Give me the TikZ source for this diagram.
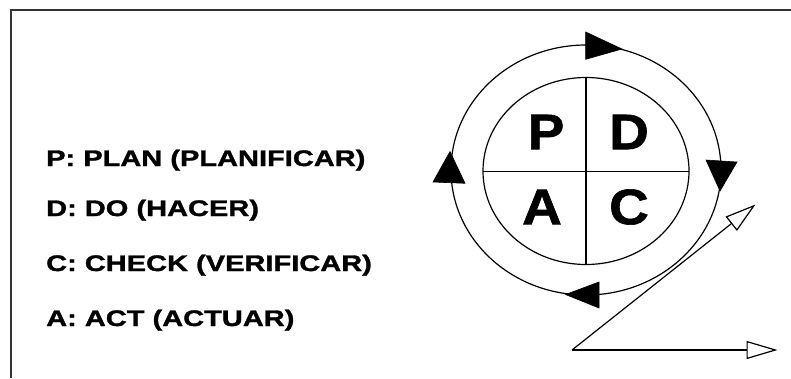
\documentclass[tikz,border=0pt]{standalone}
\usepackage{fontspec}
\setmainfont{Liberation Sans}
\newfontfamily\labfont[FakeStretch=1.29,FakeBold=1.4]{Liberation Sans}
\newfontfamily\bigfont[FakeStretch=1.1,FakeBold=1.2]{Liberation Sans}
\usetikzlibrary{arrows.meta}
\begin{document}
\begin{tikzpicture}[x=1pt,y=-1pt,
  thin line/.style={line width=1.2pt,black},
  frame line/.style={line width=1.6pt,black!80},
  tri/.style={fill=black,draw=black,line width=0.6pt,line join=miter},
  legend/.style={anchor=base west,inner sep=0pt,font=\labfont\bfseries\fontsize{22.5}{24}\selectfont},
  quad/.style={inner sep=0pt,font=\bigfont\bfseries\fontsize{50}{52}\selectfont},
  open tip/.style={-{Triangle[open,length=31pt,width=18pt,line width=1.2pt]}}]
\useasboundingbox (0,0) rectangle (791,378);
\fill[white] (0,0) rectangle (791,378);
% frame (only top and left visible)
\draw[frame line] (11,378) -- (11,10) -- (791,10);
% legend
\node[legend] (lp) at (46,166) {P: PLAN (PLANIFICAR)};
\node[legend] (ld) at (46,216) {D: DO (HACER)};
\node[legend] (lc) at (46,271) {C: CHECK (VERIFICAR)};
\node[legend] (la) at (46,326) {A: ACT (ACTUAR)};
% inner ellipse
\coordinate (c) at (586,171);
\draw[thin line] (c) ellipse [x radius=103pt, y radius=93.5pt];
\draw[thin line] (483,171.5) -- (689,171.5);
\draw[thin line] (586,77.5) -- (586,264.5);
\node[quad] (qp) at (546,132) {P};
\node[quad] (qd) at (629,132) {D};
\node[quad] (qa) at (542,207) {A};
\node[quad] (qc) at (629,207) {C};
% outer cycle
\draw[thin line] (586,170) ellipse [x radius=135pt, y radius=125pt];
\draw[tri] (585.7,32) -- (585.7,59.3) -- (622,49) -- cycle;
\draw[tri] (706,160) -- (737,162) -- (720,191) -- cycle;
\draw[tri] (599,282) -- (599,308) -- (565.5,294.5) -- cycle;
\draw[tri] (433,182) -- (465,183.3) -- (450,151.5) -- cycle;
% lower right open arrows
\coordinate (z0) at (572,350);
\coordinate (z1) at (755.5,204.5);
\coordinate (z2) at (777.5,350);
\draw[thin line,open tip,line join=miter] (z0) -- (z1);
\draw[thin line,open tip] (z0) -- (z2);
\end{tikzpicture}
\end{document}
